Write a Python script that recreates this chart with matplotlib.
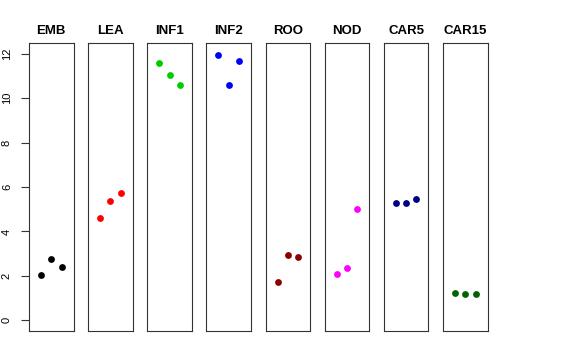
import matplotlib
matplotlib.use("Agg")
import matplotlib.pyplot as plt

plt.rcParams['font.family'] = ['Liberation Sans', 'DejaVu Sans']

groups = ["EMB", "LEA", "INF1", "INF2", "ROO", "NOD", "CAR5", "CAR15"]
colors = ["#000000", "#FF0000", "#00CD00", "#0000FF", "#8B0000", "#FF00FF", "#000080", "#006400"]
replicates = [1, 2, 3]
EMB = [2.04, 2.78, 2.38]
LEA = [4.59, 5.39, 5.72]
INF1 = [11.57, 11.03, 10.60]
INF2 = [11.96, 10.57, 11.69]
ROO = [1.73, 2.96, 2.87]
NOD = [2.09, 2.35, 5.00]
CAR5 = [5.29, 5.29, 5.47]
CAR15 = [1.21, 1.19, 1.19]
values = [EMB, LEA, INF1, INF2, ROO, NOD, CAR5, CAR15]
yticks = [0, 2, 4, 6, 8, 10, 12]

W, H = 576, 360
fig = plt.figure(figsize=(W / 100, H / 100), dpi=100)

left0 = 29.0
step = 59.15
pw = 44.5
top_px = 43.0
bot_px = 331.0

for i, (g, c, v) in enumerate(zip(groups, colors, values)):
    l = left0 + i * step
    ax = fig.add_axes([l / W, (H - bot_px) / H, pw / W, (bot_px - top_px) / H])
    ax.plot(replicates, v, 'o', color=c, markersize=4.9, markeredgewidth=0)
    ax.set_xlim(-0.16, 4.16)
    ax.set_ylim(-0.48, 12.48)
    ax.set_xticks([])
    for s in ax.spines.values():
        s.set_color('#333333')
        s.set_linewidth(0.8)
    ax.set_title(g, fontsize=9.5, fontweight='bold', pad=6.3)
    if i == 0:
        ax.set_yticks(yticks)
        ax.set_yticklabels([str(t) for t in yticks], rotation=90, va='center', fontsize=8)
        ax.tick_params(axis='y', length=5.8, width=0.8, pad=6.5, color='#333333')
    else:
        ax.set_yticks([])

fig.savefig("out.png", dpi=100)
